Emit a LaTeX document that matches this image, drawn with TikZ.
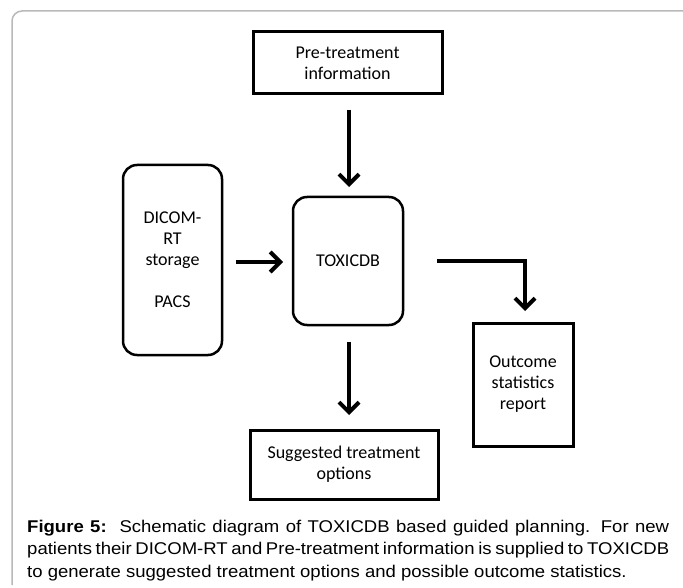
\documentclass[tikz,border=0pt]{standalone}
\usepackage{fontspec}
\setmainfont{Liberation Sans}
\newfontfamily\capfont[FakeStretch=1.09]{Liberation Sans}
\newfontfamily\boxfont{Carlito}
\usetikzlibrary{arrows.meta}
\begin{document}
\begin{tikzpicture}[x=1pt,y=-1pt,
  boxtext/.style={font=\boxfont\fontsize{18}{21}\selectfont,align=center,text=black},
  conn/.style={line width=4pt,-{Straight Barb[length=10pt,width=20pt,line width=4pt]}},
  captxt/.style={font=\capfont\fontsize{17}{22.5}\selectfont,anchor=base west,inner sep=0pt}]
\useasboundingbox (0,0) rectangle (683,588);
\fill[white] (0,0) rectangle (683,588);
% outer frame
\draw[gray!55,line width=1.5pt] (12,585) -- (12,21) arc[start angle=180,end angle=270,radius=10] -- (690,11);
% nodes
\node[draw=black,line width=3pt,minimum width=189pt,minimum height=62pt,boxtext] (pre) at (347.5,63) {Pre-treatment\\information};
\node[draw=black,line width=2.5pt,rounded corners=14pt,minimum width=99pt,minimum height=190pt,boxtext] (dicom) at (172.5,260) {DICOM-\\RT\\storage\\[21pt]PACS};
\node[draw=black,line width=2.5pt,rounded corners=14pt,minimum width=110pt,minimum height=128pt,boxtext] (tox) at (348,261) {TOXICDB};
\node[draw=black,line width=3pt,minimum width=188pt,minimum height=69pt,boxtext] (sug) at (344,464.5) {Suggested treatment\\options};
\node[draw=black,line width=3pt,minimum width=100pt,minimum height=123pt,boxtext] (out) at (523,384.5) {Outcome\\statistics\\report};
% connectors
\coordinate (a1s) at (349,110);
\coordinate (a1e) at (349,187);
\draw[conn] (a1s) -- (a1e);
\coordinate (a2s) at (236,262);
\coordinate (a2e) at (283,262);
\draw[conn] (a2s) -- (a2e);
\coordinate (a3s) at (349,342);
\coordinate (a3e) at (349,415);
\draw[conn] (a3s) -- (a3e);
\coordinate (a4s) at (437,261);
\coordinate (a4c) at (525,261);
\coordinate (a4e) at (525,311);
\draw[conn] (a4s) -- (a4c) -- (a4e);
% caption
\node[captxt] (c1) at (27,532) {\makebox[642pt][s]{\textbf{Figure 5:}\ \ Schematic diagram of TOXICDB based guided planning. For new}};
\node[captxt] (c2) at (27,554.5) {\makebox[642pt][s]{patients their DICOM-RT and Pre-treatment information is supplied to TOXICDB}};
\node[captxt] (c3) at (27,577) {to generate suggested treatment options and possible outcome statistics.};
\end{tikzpicture}
\end{document}
